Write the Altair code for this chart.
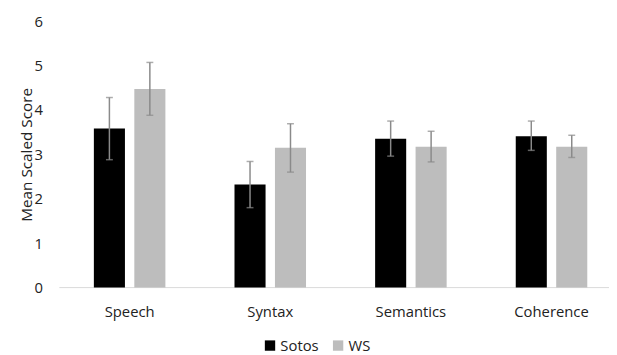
import altair as alt
import pandas as pd

categories = ["Speech", "Syntax", "Semantics", "Coherence"]
groups = ["Sotos", "WS"]
sotos_mean = [3.58, 2.32, 3.35, 3.41]
sotos_hi = [4.28, 2.84, 3.75, 3.75]
sotos_lo = [2.88, 1.80, 2.96, 3.09]
ws_mean = [4.47, 3.15, 3.17, 3.17]
ws_hi = [5.07, 3.69, 3.52, 3.43]
ws_lo = [3.88, 2.60, 2.83, 2.93]
y_ticks = [0, 1, 2, 3, 4, 5, 6]

rows = []
for i, c in enumerate(categories):
    rows.append({"cat": c, "group": "Sotos", "mean": sotos_mean[i], "lo": sotos_lo[i], "hi": sotos_hi[i]})
    rows.append({"cat": c, "group": "WS", "mean": ws_mean[i], "lo": ws_lo[i], "hi": ws_hi[i]})
df = pd.DataFrame(rows)

FONT = "Open Sans"
W, H = 557, 270

xscale = alt.Scale(domain=categories, range=[0, 570], paddingInner=0, paddingOuter=0)
xoff = alt.Scale(domain=groups, paddingInner=0.232, paddingOuter=0.854)
yscale = alt.Scale(domain=[0, 6], nice=False)

x_enc = alt.X("cat:N", scale=xscale, sort=categories,
              axis=alt.Axis(title=None, domain=False, ticks=False, tickSize=0,
                            labelPadding=17, labelFontSize=15, labelAngle=0,
                            labelFont=FONT, labelColor="#222222"))
xo_enc = alt.XOffset("group:N", scale=xoff, sort=groups)

base = alt.Chart(df)

bars = base.mark_bar().encode(
    x=x_enc,
    xOffset=xo_enc,
    y=alt.Y("mean:Q", scale=yscale,
            axis=alt.Axis(title="Mean Scaled Score", values=y_ticks, grid=False,
                          domain=False, ticks=False, tickSize=0, labelPadding=17,
                          labelFontSize=15, labelFont=FONT, labelColor="#222222",
                          titleFont=FONT, titleFontSize=15.5, titleFontWeight="normal",
                          titleColor="#222222", titlePadding=0)),
    color=alt.Color("group:N", sort=groups,
                    scale=alt.Scale(domain=groups, range=["#000000", "#bdbdbd"]),
                    legend=alt.Legend(title=None, orient="none", legendX=206, legendY=321,
                                      direction="horizontal", symbolType="square",
                                      symbolSize=110, symbolStrokeWidth=0,
                                      labelFont=FONT, labelFontSize=15,
                                      labelColor="#222222", columnPadding=12,
                                      labelOffset=3)),
)

err = base.mark_rule(color="#8a8a8a", strokeWidth=1.5).encode(
    x=alt.X("cat:N", scale=xscale, sort=categories),
    xOffset=xo_enc,
    y=alt.Y("lo:Q", scale=yscale),
    y2="hi:Q",
)

cap_hi = base.mark_tick(color="#8a8a8a", orient="horizontal", size=7, thickness=1.5).encode(
    x=alt.X("cat:N", scale=xscale, sort=categories),
    xOffset=xo_enc,
    y=alt.Y("hi:Q", scale=yscale),
)
cap_lo = base.mark_tick(color="#8a8a8a", orient="horizontal", size=7, thickness=1.5).encode(
    x=alt.X("cat:N", scale=xscale, sort=categories),
    xOffset=xo_enc,
    y=alt.Y("lo:Q", scale=yscale),
)

baseline = alt.Chart(pd.DataFrame({"v": [0]})).mark_rule(color="#d9d9d9", strokeWidth=1).encode(
    x=alt.value(0), x2=alt.value(W), y=alt.Y("v:Q", scale=yscale)
)

chart = alt.layer(baseline, bars, err, cap_hi, cap_lo).properties(
    width=W, height=H,
    autosize=alt.AutoSizeParams(type="none"),
    padding={"left": 52, "top": 11, "right": 0, "bottom": 66},
).configure(font=FONT).configure_view(stroke="transparent", strokeWidth=0)

chart.save("out.html", embed_options={"renderer": "svg", "actions": False})
